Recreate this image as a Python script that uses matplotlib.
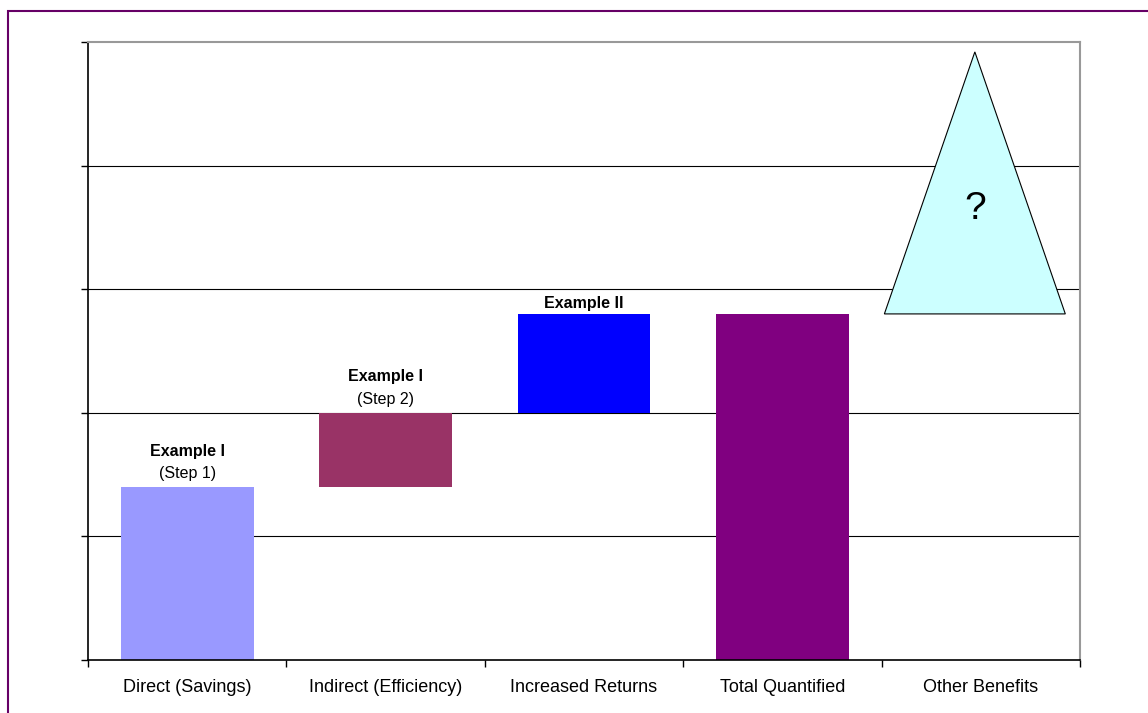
import matplotlib.pyplot as plt
import numpy as np
from matplotlib.patches import Rectangle

plt.rcParams['font.family'] = ['Liberation Sans', 'DejaVu Sans']

categories = ["Direct (Savings)", "Indirect (Efficiency)", "Increased Returns",
              "Total Quantified", "Other Benefits"]
steps = [1.4, 0.6, 0.8]          # waterfall increments
total = 2.8
other_top = 4.92                 # apex of the "?" triangle
bar_colors = ["#9999FF", "#993366", "#0000FF", "#800080"]
notes_bold = ["Example I", "Example I", "Example II"]
notes_sub = ["(Step 1)", "(Step 2)", ""]

fig = plt.figure(figsize=(11.48, 7.13), dpi=100)
ax = fig.add_axes([88 / 1148, 1 - 660 / 713, (1080 - 88) / 1148, (660 - 42) / 713])

bottoms = np.concatenate([[0], np.cumsum(steps)[:-1]])
x = np.arange(len(categories))
width = 0.67

# gridlines
for yv in range(1, 5):
    ax.axhline(yv, color="black", lw=0.8, zorder=1)

ax.bar(x[:3], steps, bottom=bottoms, width=width, color=bar_colors[:3], zorder=2)
ax.bar(x[3], total, width=width, color=bar_colors[3], zorder=2)

# other benefits triangle (sits a touch left of the category centre)
tc = x[4] - 0.03
tw = 0.456
ax.fill([tc - tw, tc, tc + tw], [total, other_top, total],
        facecolor="#CCFFFF", edgecolor="black", lw=0.8, zorder=3)
ax.text(tc, total + (other_top - total) * 0.4, "?", ha="center", va="center",
        fontsize=28, zorder=4)

for i in range(3):
    top = bottoms[i] + steps[i]
    if notes_sub[i]:
        ax.text(x[i], top + 0.05, notes_sub[i], ha="center", va="bottom", fontsize=11.5)
        ax.text(x[i], top + 0.23, notes_bold[i], ha="center", va="bottom",
                fontsize=11.5, fontweight="bold")
    else:
        ax.text(x[i], top + 0.02, notes_bold[i], ha="center", va="bottom",
                fontsize=11.5, fontweight="bold")

ax.set_xlim(-0.5, 4.5)
ax.set_ylim(0, 5)
ax.set_yticks(range(6))
ax.set_yticklabels([])
ax.tick_params(axis="y", length=5, width=1)
ax.set_xticks(np.arange(-0.5, 5, 1))
ax.set_xticklabels([])
ax.tick_params(axis="x", which="major", length=5, width=1)
ax.set_xticks(x, minor=True)
ax.set_xticklabels(categories, minor=True, fontsize=13)
ax.tick_params(axis="x", which="minor", length=0, pad=14)

for s in ["top", "right"]:
    ax.spines[s].set_color("#999999")
    ax.spines[s].set_linewidth(1.5)
for s in ["left", "bottom"]:
    ax.spines[s].set_color("black")
    ax.spines[s].set_linewidth(1.2)

fig.patches.append(Rectangle((7.5 / 1148, -0.1), 1.2, 1 - 11 / 713 + 0.1,
                             transform=fig.transFigure, fill=False,
                             edgecolor="#660066", lw=1.5))

fig.savefig("out.png", dpi=100)
plt.close(fig)
